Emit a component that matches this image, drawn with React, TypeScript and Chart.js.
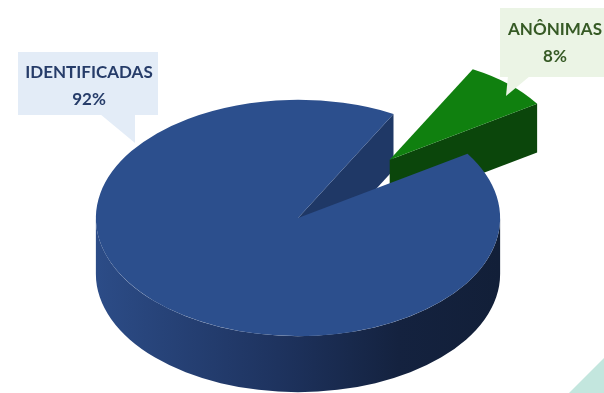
import React, { useEffect, useRef } from "react";
import { Chart, registerables } from "chart.js";

Chart.register(...registerables);

// ---- data ----
const categories = ["IDENTIFICADAS", "ANÔNIMAS"];
const values = [92, 8];

// ---- styles ----
const topColors = ["#2c4f8d", "#10800f"];
const faceColors = ["#1f3866", "#0b460b"];
const wallStops: string[][] = [
  ["#2c4c87", "#1e335f", "#14223f", "#121f38"],
  ["#0d5a0d", "#0a460a", "#083a08", "#073207"],
];
const explodeFrac = [0, 0.67];
const sizeFrac = [1, 0.87];
const labelTextColors = ["#263c69", "#365a25"];
const calloutFills = ["#e3ecf7", "#ebf4e5"];

const SX = 1.155;
const SY = 0.675;
const DEPTH = 0.32;

type Geo = { gx: number; gy: number; rx: number; ry: number; d: number; s: number; e: number };

function geometry(chart: any): Geo[] {
  const meta = chart.getDatasetMeta(0);
  return meta.data.map((arc: any, i: number) => {
    const p = arc.getProps(["x", "y", "startAngle", "endAngle", "outerRadius"], true);
    const R = p.outerRadius;
    const f = sizeFrac[i] ?? 1;
    const mid = (p.startAngle + p.endAngle) / 2;
    const ex = explodeFrac[i] ?? 0;
    const rx0 = R * SX;
    const ry0 = R * SY;
    return {
      gx: p.x + ex * rx0 * Math.cos(mid),
      gy: p.y + ex * ry0 * Math.sin(mid),
      rx: rx0 * f,
      ry: ry0 * f,
      d: R * DEPTH * f,
      s: p.startAngle,
      e: p.endAngle,
    };
  });
}

function drawSides(ctx: CanvasRenderingContext2D, g: Geo, i: number) {
  const { gx, gy, rx, ry, d, s, e } = g;
  const face = (a: number) => {
    ctx.beginPath();
    ctx.moveTo(gx, gy);
    ctx.lineTo(gx + rx * Math.cos(a), gy + ry * Math.sin(a));
    ctx.lineTo(gx + rx * Math.cos(a), gy + ry * Math.sin(a) + d);
    ctx.lineTo(gx, gy + d);
    ctx.closePath();
    ctx.fillStyle = faceColors[i];
    ctx.fill();
  };
  if (Math.cos(s) < 0) face(s);
  if (Math.cos(e) > 0) face(e);
  const grad = ctx.createLinearGradient(gx - rx, 0, gx + rx, 0);
  const st = wallStops[i];
  grad.addColorStop(0, st[0]);
  grad.addColorStop(0.45, st[1]);
  grad.addColorStop(0.75, st[2]);
  grad.addColorStop(1, st[3]);
  for (let k = -1; k <= 2; k++) {
    const lo = Math.max(s, 2 * Math.PI * k);
    const hi = Math.min(e, 2 * Math.PI * k + Math.PI);
    if (hi > lo) {
      ctx.beginPath();
      ctx.ellipse(gx, gy, rx, ry, 0, lo, hi, false);
      ctx.lineTo(gx + rx * Math.cos(hi), gy + ry * Math.sin(hi) + d);
      ctx.ellipse(gx, gy + d, rx, ry, 0, hi, lo, true);
      ctx.closePath();
      ctx.fillStyle = grad;
      ctx.fill();
    }
  }
}

function drawTop(ctx: CanvasRenderingContext2D, g: Geo, i: number) {
  ctx.beginPath();
  ctx.moveTo(g.gx, g.gy);
  ctx.ellipse(g.gx, g.gy, g.rx, g.ry, 0, g.s, g.e, false);
  ctx.closePath();
  ctx.fillStyle = topColors[i];
  ctx.fill();
}

const pie3d = {
  id: "pie3d",
  beforeDatasetsDraw(chart: any) {
    const ctx: CanvasRenderingContext2D = chart.ctx;
    const geos = geometry(chart);
    const flat = geos.map((g, i) => i).filter((i) => !(explodeFrac[i] > 0));
    const exploded = geos.map((g, i) => i).filter((i) => explodeFrac[i] > 0);
    ctx.save();
    flat.forEach((i) => drawSides(ctx, geos[i], i));
    exploded.forEach((i) => {
      drawSides(ctx, geos[i], i);
      drawTop(ctx, geos[i], i);
    });
    flat.forEach((i) => drawTop(ctx, geos[i], i));
    ctx.restore();
    return false;
  },
};

const callouts = [
  { box: [18, 52, 140, 63], tip: [[100, 114], [135, 114], [135, 143]], cx: 89, base: [78, 105] },
  { box: [500, 8, 110, 69], tip: [[508, 76], [530, 76], [506, 96]], cx: 555, base: [35, 62] },
];

const labelsPlugin = {
  id: "calloutLabels",
  afterDraw(chart: any) {
    const ctx: CanvasRenderingContext2D = chart.ctx;
    const total = values.reduce((a, b) => a + b, 0);
    ctx.save();
    // decorative corner
    ctx.beginPath();
    ctx.moveTo(604, 358);
    ctx.lineTo(604, 393);
    ctx.lineTo(569, 393);
    ctx.closePath();
    ctx.fillStyle = "#c3e6de";
    ctx.fill();
    categories.forEach((name, i) => {
      const c = callouts[i];
      ctx.fillStyle = calloutFills[i];
      ctx.fillRect(c.box[0], c.box[1], c.box[2], c.box[3]);
      ctx.beginPath();
      ctx.moveTo(c.tip[0][0], c.tip[0][1]);
      ctx.lineTo(c.tip[1][0], c.tip[1][1]);
      ctx.lineTo(c.tip[2][0], c.tip[2][1]);
      ctx.closePath();
      ctx.fill();
      ctx.fillStyle = labelTextColors[i];
      ctx.font = "bold 17px Lato";
      ctx.textAlign = "center";
      ctx.textBaseline = "alphabetic";
      ctx.fillText(name, c.cx, c.base[0]);
      ctx.fillText(Math.round((values[i] / total) * 100) + "%", c.cx, c.base[1]);
    });
    ctx.restore();
  },
};

export default function App() {
  const ref = useRef<HTMLCanvasElement>(null);
  useEffect(() => {
    document.body.style.margin = "0";
    const chart = new Chart(ref.current as HTMLCanvasElement, {
      type: "pie",
      data: {
        labels: categories,
        datasets: [{ data: values, backgroundColor: topColors, borderWidth: 0 }],
      },
      options: {
        responsive: false,
        animation: false,
        rotation: 57,
        events: [],
        layout: { padding: { left: 0, right: 8, top: 43, bottom: 0 } },
        plugins: { legend: { display: false }, tooltip: { enabled: false } },
      },
      plugins: [pie3d, labelsPlugin],
    } as any);
    return () => chart.destroy();
  }, []);
  return (
    <div style={{ position: "absolute", left: 0, top: 0, width: 604, height: 393, background: "#fff" }}>
      <canvas ref={ref} width={604} height={393} style={{ display: "block" }} />
    </div>
  );
}
